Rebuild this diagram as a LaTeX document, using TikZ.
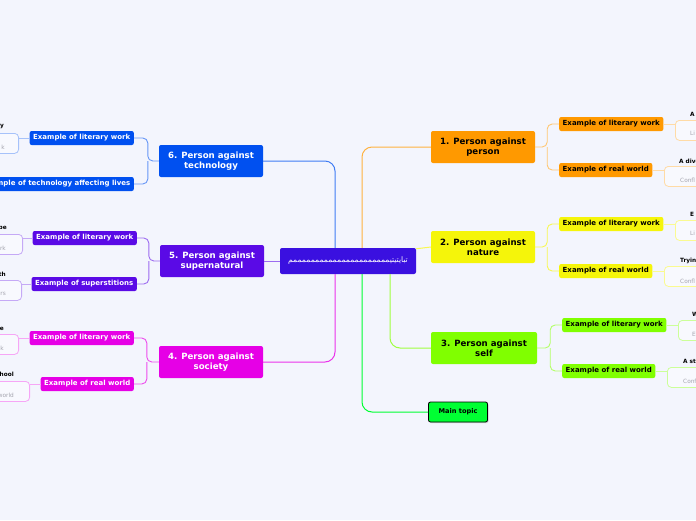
\documentclass[tikz,border=0pt]{standalone}
\usepackage{fontspec}
\setmainfont{DejaVu Sans}
\newfontfamily\arabicfont[Script=Arabic]{DejaVu Sans}
\TeXXeTstate=1
\usetikzlibrary{shadows}

\definecolor{bgpage}{RGB}{243,245,253}
\definecolor{cctr}{RGB}{58,16,224}
\definecolor{corange}{RGB}{255,153,0}
\definecolor{cyellow}{RGB}{245,245,10}
\definecolor{cgreen}{RGB}{128,255,0}
\definecolor{cmain}{RGB}{0,255,51}
\definecolor{cblue}{RGB}{0,80,240}
\definecolor{cviolet}{RGB}{90,10,230}
\definecolor{cmagenta}{RGB}{230,0,230}
\definecolor{leaffill}{RGB}{248,249,254}
\definecolor{leafgray}{RGB}{165,165,175}

\tikzset{
  topicbox/.style={rounded corners=2pt, minimum width=104pt, minimum height=32pt,
    align=center, inner sep=0pt, font=\fontsize{8.6}{10}\selectfont\bfseries},
  subbox/.style={rounded corners=2pt, minimum height=14pt, inner xsep=3.5pt,
    inner ysep=0pt, font=\fontsize{7}{8}\selectfont\bfseries},
  leafbox/.style={draw, rounded corners=4pt, fill=leaffill, line width=0.8pt,
    minimum height=20pt, minimum width=90pt, inner sep=0pt},
  leaftitle/.style={inner sep=0pt, font=\fontsize{5.8}{6.5}\selectfont\bfseries},
  leaftext/.style={inner sep=0pt, text=leafgray, font=\fontsize{5.8}{6.5}\selectfont},
  branch/.style={line width=1pt, rounded corners=10pt},
  twig/.style={line width=0.9pt, rounded corners=5pt},
}

\begin{document}
\begin{tikzpicture}[x=1pt,y=-1pt]

  \fill[bgpage] (0,0) rectangle (696,520);
  \useasboundingbox (0,0) rectangle (696,520);

  % --- centro ---
  \node[fill=cctr, text=white, rounded corners=2pt, minimum width=136pt,
    minimum height=26pt, inner sep=0pt] (ctr) at (348,261)
    {\arabicfont\fontsize{7.6}{8.5}\selectfont\beginR تبايتيتيممممممممممممممممممممممم\endR};

  % --- argomenti principali ---
  \node[topicbox, fill=corange] (t1) at (483,147) {1. Person against\\person};
  \node[topicbox, fill=cyellow] (t2) at (483,247) {2. Person against\\nature};
  \node[topicbox, fill=cgreen, minimum width=106pt] (t3) at (484,348) {3. Person against\\self};
  \node[fill=cmain, draw=black, line width=0.8pt, rounded corners=2pt,
    minimum width=59pt, minimum height=20pt, inner sep=0pt,
    font=\fontsize{6.6}{7}\selectfont\bfseries,
    drop shadow={opacity=0.35, shadow xshift=1pt, shadow yshift=-1pt}] (mt) at (458,412) {Main topic};
  \node[topicbox, fill=cblue, text=white] (t6) at (211,161) {6. Person against\\technology};
  \node[topicbox, fill=cviolet, text=white] (t5) at (212,261) {5. Person against\\supernatural};
  \node[topicbox, fill=cmagenta, text=white] (t4) at (211,362) {4. Person against\\society};

  % --- sottoargomenti destra ---
  \node[subbox, fill=corange, anchor=west] (s1a) at (559,124) {Example of literary work};
  \node[subbox, fill=corange, anchor=west] (s1b) at (559,170) {Example of real world};
  \node[subbox, fill=cyellow, anchor=west] (s2a) at (559,224) {Example of literary work};
  \node[subbox, fill=cyellow, anchor=west] (s2b) at (559,271) {Example of real world};
  \node[subbox, fill=cgreen, anchor=west] (s3a) at (562,325) {Example of literary work};
  \node[subbox, fill=cgreen, anchor=west] (s3b) at (562,371) {Example of real world};

  % --- sottoargomenti sinistra ---
  \node[subbox, fill=cblue, text=white, anchor=east] (s6a) at (134,138) {Example of literary work};
  \node[subbox, fill=cblue, text=white, anchor=east] (s6b) at (134,184) {Example of technology affecting lives};
  \node[subbox, fill=cviolet, text=white, anchor=east] (s5a) at (137,238) {Example of literary work};
  \node[subbox, fill=cviolet, text=white, anchor=east] (s5b) at (137,284) {Example of superstitions};
  \node[subbox, fill=cmagenta, text=white, anchor=east] (s4a) at (134,338) {Example of literary work};
  \node[subbox, fill=cmagenta, text=white, anchor=east] (s4b) at (134,384) {Example of real world};

  % --- foglie destra (tagliate dal bordo) ---
  \node[leafbox, draw=corange!35, anchor=north west] (l1a) at (675,120) {};
  \node[leaftitle, anchor=west] (l1at) at (690,114) {A};
  \node[leaftext, anchor=west] (l1ax) at (690,133) {Li};
  \node[leafbox, draw=corange!35, anchor=north west] (l1b) at (664,166) {};
  \node[leaftitle, anchor=west] (l1bt) at (679,161) {A dive};
  \node[leaftext, anchor=west] (l1bx) at (680,180) {Confl};
  \node[leafbox, draw=cyellow!45, anchor=north west] (l2a) at (675,220) {};
  \node[leaftitle, anchor=west] (l2at) at (690,214) {E};
  \node[leaftext, anchor=west] (l2ax) at (690,233) {Li};
  \node[leafbox, draw=cyellow!45, anchor=north west] (l2b) at (664,266) {};
  \node[leaftitle, anchor=west] (l2bt) at (680,261) {Tryin};
  \node[leaftext, anchor=west] (l2bx) at (680,281) {Confl};
  \node[leafbox, draw=cgreen!40, anchor=north west] (l3a) at (678,320) {};
  \node[leaftitle, anchor=west] (l3at) at (692,314) {W};
  \node[leaftext, anchor=west] (l3ax) at (692,334) {E};
  \node[leafbox, draw=cgreen!40, anchor=north west] (l3b) at (667,367) {};
  \node[leaftitle, anchor=west] (l3bt) at (683,361) {A st};
  \node[leaftext, anchor=west] (l3bx) at (683,381) {Conf};

  % --- foglie sinistra (tagliate dal bordo) ---
  \node[leafbox, draw=cblue!35, anchor=north east] (l6a) at (19,133) {};
  \node[leaftitle, anchor=east] (l6at) at (4,127) {y};
  \node[leaftext, anchor=east] (l6ax) at (5,147) {k};
  \node[leafbox, draw=cviolet!35, anchor=north east] (l5a) at (23,234) {};
  \node[leaftitle, anchor=east] (l5at) at (7,228) {pe};
  \node[leaftext, anchor=east] (l5ax) at (6,248) {rk};
  \node[leafbox, draw=cviolet!35, anchor=north east] (l5b) at (22,280) {};
  \node[leaftitle, anchor=east] (l5bt) at (6,274) {th};
  \node[leaftext, anchor=east] (l5bx) at (6,294) {rs};
  \node[leafbox, draw=cmagenta!35, anchor=north east] (l4a) at (19,334) {};
  \node[leaftitle, anchor=east] (l4at) at (4,329) {e};
  \node[leaftext, anchor=east] (l4ax) at (4,348) {k};
  \node[leafbox, draw=cmagenta!35, anchor=north east] (l4b) at (30,381) {};
  \node[leaftitle, anchor=east] (l4bt) at (14,374) {hool};
  \node[leaftext, anchor=east] (l4bx) at (14,395) {world};

  % --- rami dal centro ---
  \draw[branch, corange!75] ([xshift=14pt]ctr.north) |- (t1.west);
  \draw[branch, cyellow!70] ([yshift=-1pt]ctr.north east) -- (t2.west);
  \draw[branch, cgreen!75] ([xshift=42pt]ctr.south) |- (t3.west);
  \draw[branch, cmain] ([xshift=14pt]ctr.south) |- (mt.west);
  \draw[branch, cblue!75] ([xshift=-13pt]ctr.north) |- (t6.east);
  \draw[branch, cviolet!60] (ctr.west) -- (t5.east);
  \draw[branch, cmagenta!80] ([xshift=-13pt]ctr.south) |- (t4.east);

  % --- rami verso i sottoargomenti ---
  \draw[twig, corange!55] (t1.east) -- ([xshift=12pt]t1.east) |- (s1a.west);
  \draw[twig, corange!55] ([xshift=12pt]t1.east) |- (s1b.west);
  \draw[twig, cyellow!70] (t2.east) -- ([xshift=12pt]t2.east) |- (s2a.west);
  \draw[twig, cyellow!70] ([xshift=12pt]t2.east) |- (s2b.west);
  \draw[twig, cgreen!60] (t3.east) -- ([xshift=13pt]t3.east) |- (s3a.west);
  \draw[twig, cgreen!60] ([xshift=13pt]t3.east) |- (s3b.west);
  \draw[twig, cblue!60] (t6.west) -- ([xshift=-11pt]t6.west) |- (s6a.east);
  \draw[twig, cblue!60] ([xshift=-11pt]t6.west) |- (s6b.east);
  \draw[twig, cviolet!60] (t5.west) -- ([xshift=-11pt]t5.west) |- (s5a.east);
  \draw[twig, cviolet!60] ([xshift=-11pt]t5.west) |- (s5b.east);
  \draw[twig, cmagenta!70] (t4.west) -- ([xshift=-12pt]t4.west) |- (s4a.east);
  \draw[twig, cmagenta!70] ([xshift=-12pt]t4.west) |- (s4b.east);

  % --- rami verso le foglie ---
  \draw[twig, corange!35] (s1a.east) -- (s1a.east -| l1a.west);
  \draw[twig, corange!35] (s1b.east) -- (s1b.east -| l1b.west);
  \draw[twig, cyellow!45] (s2a.east) -- (s2a.east -| l2a.west);
  \draw[twig, cyellow!45] (s2b.east) -- (s2b.east -| l2b.west);
  \draw[twig, cgreen!40] (s3a.east) -- (s3a.east -| l3a.west);
  \draw[twig, cgreen!40] (s3b.east) -- (s3b.east -| l3b.west);
  \draw[twig, cblue!35] (s6a.west) -- (s6a.west -| l6a.east);
  \draw[twig, cviolet!35] (s5a.west) -- (s5a.west -| l5a.east);
  \draw[twig, cviolet!35] (s5b.west) -- (s5b.west -| l5b.east);
  \draw[twig, cmagenta!35] (s4a.west) -- (s4a.west -| l4a.east);
  \draw[twig, cmagenta!35] (s4b.west) -- (s4b.west -| l4b.east);

\end{tikzpicture}
\end{document}
